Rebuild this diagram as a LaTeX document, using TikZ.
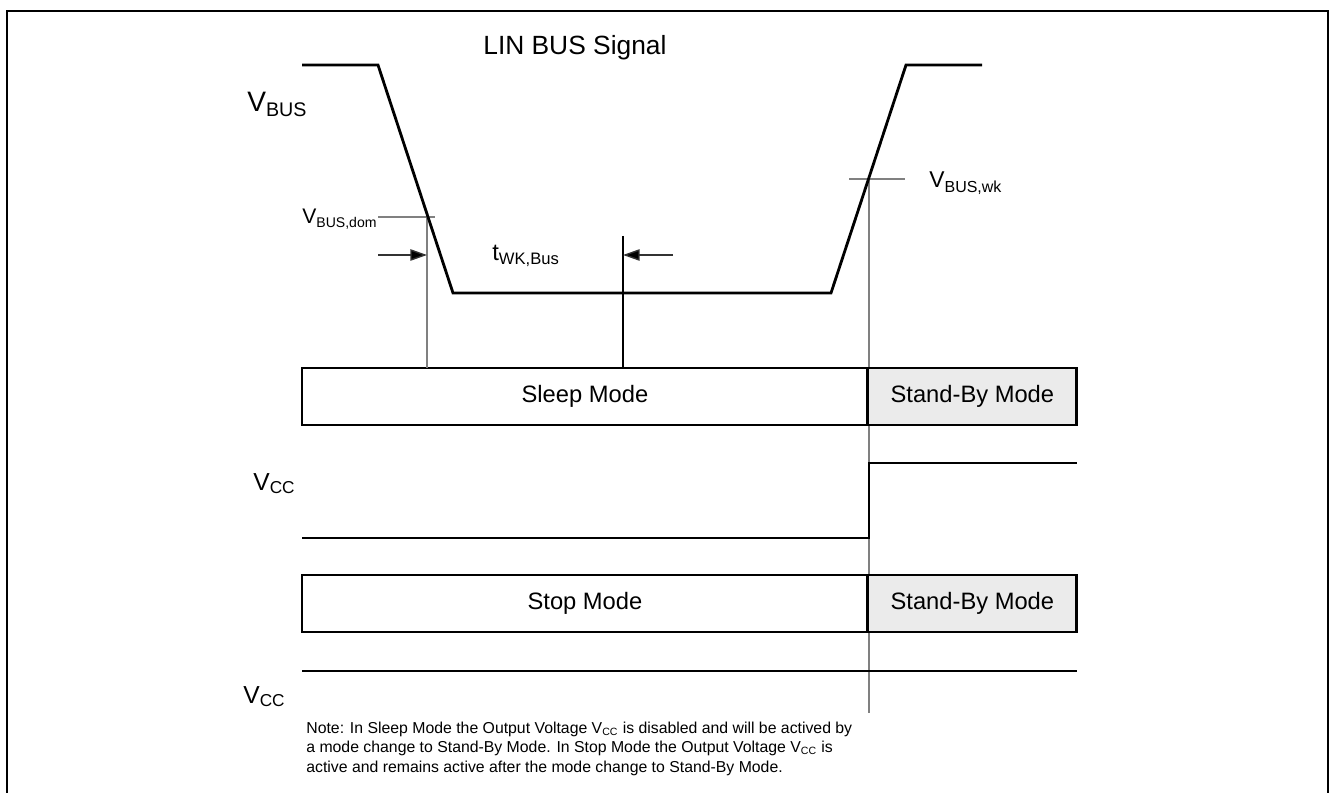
\documentclass[tikz,border=0pt]{standalone}
\usepackage{fontspec}
\setmainfont{Liberation Sans}
\usetikzlibrary{arrows.meta,positioning}
\tikzset{
	sig/.style={line width=1.6pt, line join=miter},
	helper/.style={line width=0.8pt, color=black!50},
	modebox/.style={draw, line width=1.6pt, inner sep=0pt, outer sep=0pt, minimum height=1.14cm, font=\fontsize{13.5}{16}\selectfont},
	tipbar/.style={line width=0.8pt, color=black!80, -{Triangle[length=9.5pt, width=6.5pt, fill=black]}},
	lbl/.style={inner sep=0pt, anchor=base west},
}

\begin{document}
\begin{tikzpicture}[x=0.02cm, y=-0.02cm]
		%%%%% START %%%%%
		\useasboundingbox (0, 0) rectangle (1331, 793);
		\draw[line width=0.8pt] (7, 793) -- (7, 11) -- (1328, 11) -- (1328, 793);
		
		% helper lines
		\coordinate (dom) at (427, 217);
		\coordinate (twk) at (623, 236);
		\coordinate (wk) at (869, 179);
		\draw[helper] (378, 217) -- (435, 217);
		\draw[helper] (849, 179) -- (905, 179);
		\draw[helper] (wk) -- ++(0, 534);
		
		% modes
		\node[modebox, minimum width=11.32cm, anchor=north west] (sleep) at (302, 368) {Sleep Mode};
		\node[modebox, minimum width=4.18cm, fill=black!8, right=0pt of sleep] (standbyA) {Stand-By Mode};
		\node[modebox, minimum width=11.32cm, anchor=north west] (stop) at (302, 575) {Stop Mode};
		\node[modebox, minimum width=4.18cm, fill=black!8, right=0pt of stop] (standbyB) {Stand-By Mode};
		
		\draw[helper] (dom) -- (dom |- sleep.north);
		\draw[line width=0.6pt] (twk) -- (twk |- sleep.north);
		
		% signals
		\draw[sig] (302, 65) -- (378, 65) -- (453, 293) -- (831, 293) -- (906, 65) -- (982, 65);
		\draw[sig] (302, 538) -- (869, 538) -- (869, 463) -- (1077, 463);
		\draw[sig] (302, 671) -- (1077, 671);
		
		\draw[tipbar] (378, 255) -- (dom |- 0, 255);
		\draw[tipbar] (673, 255) -- (twk |- 0, 255);
		
		% labels
		\node[lbl, font=\fontsize{15}{18}\selectfont] (title) at (483, 55) {LIN BUS Signal};
		\node[lbl, font=\fontsize{16}{19}\selectfont] (vbus) at (247, 112) {V\textsubscript{BUS}};
		\node[lbl, font=\fontsize{12}{15}\selectfont] (vdom) at (302, 224) {V\textsubscript{BUS,dom}};
		\node[lbl, font=\fontsize{13.5}{16}\selectfont] (twklbl) at (492, 261) {t\textsubscript{WK,Bus}};
		\node[lbl, font=\fontsize{13}{16}\selectfont] (vwk) at (929, 188) {V\textsubscript{BUS,wk}};
		\node[lbl, font=\fontsize{14}{17}\selectfont] (vccA) at (253, 490) {V\textsubscript{CC}};
		\node[lbl, font=\fontsize{14}{17}\selectfont] (vccB) at (243, 703) {V\textsubscript{CC}};
		
		\node[inner sep=0pt, anchor=north west, align=left, font=\fontsize{9}{10.9}\selectfont] (note) at (306, 722)
		{Note: In Sleep Mode the Output Voltage V\textsubscript{CC} is disabled and will be actived by\\
		a mode change to Stand-By Mode. In Stop Mode the Output Voltage V\textsubscript{CC} is\\
		active and remains active after the mode change to Stand-By Mode.};
		%%%%% END %%%%%
	\end{tikzpicture}
\end{document}
